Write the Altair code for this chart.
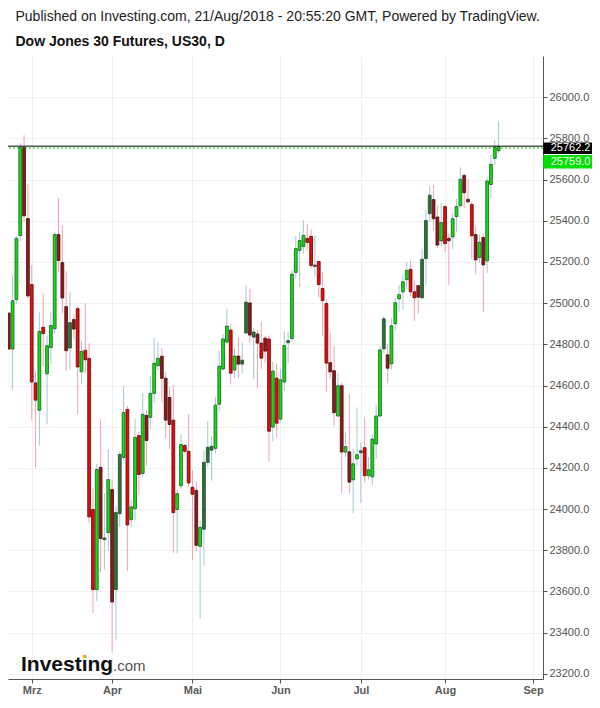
import altair as alt
import pandas as pd

# ---- data (daily bars, Feb 21 .. Aug 21, 2018) ----
opens = [24952, 24777, 25017, 25328, 25756, 25411, 25090, 24613, 24480, 24883,
         24657, 24784, 24876, 25333, 25197, 24983, 24782, 24920, 24973, 24667,
         24771, 24732, 23998, 23609, 24203, 23852, 23886, 24095, 23609, 23978,
         24250, 24484, 23949, 24002, 24357, 24173, 24455, 24445, 24562, 24696,
         24742, 24635, 24542, 24432, 23998, 24113, 24309, 24281, 24106, 24091,
         23819, 23902, 24227, 24286, 24295, 24509, 24680, 24811, 24869, 24675,
         24743, 24704, 24855, 25001, 24835, 24850, 24806, 24830, 24826, 24398,
         24636, 24437, 24617, 24808, 24828, 25149, 25256, 25275, 25314, 25324,
         25178, 25202, 25071, 24998, 24711, 24672, 24452, 24599, 24277, 24278,
         24142, 24244, 24273, 24298, 24162, 24156, 24316, 24452, 24778, 24749,
         24705, 24900, 25021, 25055, 25114, 25164, 25055, 25085, 25026, 25216,
         25435, 25503, 25418, 25302, 25469, 25315, 25321, 25420, 25473, 25620,
         25504, 25479, 25333, 25222, 25319, 25205, 25576, 25703, 25740]
highs = [24952, 25135, 25325, 25776, 25816, 25578, 25184, 24669, 24955, 25049,
         24844, 24955, 25345, 25510, 25377, 25155, 25056, 24944, 24985, 24816,
         25000, 24805, 24100, 24221, 24437, 24077, 24291, 24145, 24015, 24281,
         24597, 24500, 24043, 24437, 24375, 24565, 24481, 24646, 24829, 24810,
         24781, 24664, 24594, 24602, 24092, 24362, 24315, 24460, 24190, 24137,
         23944, 24283, 24427, 24355, 24545, 24769, 24850, 24973, 24900, 24779,
         24835, 24808, 25085, 25069, 24879, 24871, 24911, 24842, 24842, 24715,
         24706, 24679, 24863, 24860, 25160, 25325, 25347, 25403, 25384, 25358,
         25329, 25205, 25150, 25019, 24857, 24794, 24661, 24614, 24371, 24560,
         24293, 24494, 24322, 24445, 24252, 24362, 24507, 24794, 24937, 24802,
         24926, 25025, 25089, 25140, 25198, 25208, 25110, 25090, 25264, 25451,
         25568, 25574, 25475, 25487, 25475, 25337, 25438, 25509, 25659, 25630,
         25601, 25492, 25374, 25335, 25335, 25609, 25719, 25792, 25884]
lows = [24777, 24579, 24998, 25302, 25395, 25022, 24430, 24203, 24309, 24693,
        24411, 24704, 24852, 25152, 24949, 24670, 24675, 24824, 24459, 24607,
        24660, 23933, 23495, 23553, 23695, 23707, 23797, 23305, 23365, 23913,
        24237, 23699, 23913, 23946, 24067, 24156, 24210, 24387, 24516, 24675,
        24518, 24343, 24291, 23788, 23784, 24100, 24270, 24108, 23752, 23796,
        23469, 23727, 24206, 24138, 24270, 24474, 24673, 24801, 24605, 24636,
        24636, 24660, 24850, 24808, 24631, 24586, 24680, 24709, 24231, 24328,
        24347, 24421, 24573, 24708, 24812, 25120, 25079, 25241, 25257, 25168,
        25128, 25027, 24841, 24568, 24633, 24403, 24447, 24077, 24252, 24077,
        23980, 24209, 24029, 24131, 24145, 24117, 24243, 24446, 24757, 24611,
        24679, 24867, 24960, 24969, 25068, 25034, 24913, 24950, 25018, 25089,
        25394, 25350, 25268, 25273, 25248, 25088, 25263, 25346, 25460, 25460,
        25485, 25214, 25141, 25196, 24958, 25147, 25508, 25670, 25727]
closes = [24777, 25012, 25315, 25756, 25424, 25035, 24617, 24529, 24863, 24852,
          24793, 24891, 25333, 25207, 25025, 24769, 24905, 24874, 24690, 24766,
          24725, 23962, 23609, 24192, 23857, 23860, 24143, 23549, 23983, 24265,
          24469, 23923, 24011, 24348, 24168, 24460, 24333, 24562, 24708, 24732,
          24635, 24432, 24411, 23983, 24075, 24314, 24281, 24127, 24072, 23824,
          23911, 24227, 24300, 24305, 24505, 24694, 24826, 24889, 24660, 24743,
          24704, 24723, 25005, 24845, 24860, 24806, 24733, 24767, 24378, 24670,
          24417, 24628, 24794, 24818, 25141, 25265, 25304, 25329, 25295, 25183,
          25185, 25090, 25013, 24709, 24666, 24468, 24599, 24277, 24303, 24131,
          24220, 24264, 24283, 24162, 24191, 24340, 24452, 24773, 24924, 24684,
          24890, 25002, 25041, 25104, 25159, 25055, 25026, 25029, 25213, 25401,
          25524, 25410, 25282, 25391, 25289, 25303, 25410, 25469, 25601, 25536,
          25492, 25327, 25210, 25295, 25186, 25593, 25674, 25756, 25759]
# body shade: G bright green, K dark green, R bright red, D dark red
shades = list("DGGGDDRRGR" "GGGDDDKDRG" "RRRGDKGDKK" "GRGGRGDGGG" "DDDRGGRRRD"
              "GKKKGGGGRG" "DKKDKDRDRG" "RGGKGGGGRR" "KRRRDDGDGD" "GGKRGGGGKD"
              "GGGGGRRDKK" "KDDGRDGGGD" "DRDGDGGGG")
month_index = [6, 27, 48, 71, 92, 114, 137]
month_labels = ["Mrz", "Apr", "Mai", "Jun", "Jul", "Aug", "Sep"]
y_ticks = list(range(23200, 26001, 200))
last_price = 25762.2
last_close = 25759.0

# ---- table ----
n = len(opens)
df = pd.DataFrame({"i": list(range(n)), "open": opens, "high": highs,
                   "low": lows, "close": closes, "shade": shades})
df["lo"] = df["i"] - 0.37
df["hi"] = df["i"] + 0.37
df["dir"] = ["up" if s in "GK" else "down" for s in shades]

W, H = 535, 623
FONT = "Liberation Sans"
xs = alt.Scale(domain=[-0.2, 139.6], nice=False, zero=False)
ys = alt.Scale(domain=[23175, 26200], nice=False, zero=False)

label_expr = "".join(f"datum.value == {v} ? '{l}' : " for v, l in zip(month_index, month_labels)) + "''"

x_axis = alt.Axis(values=month_index, labelExpr=label_expr, title=None, grid=True,
                  gridColor="#f0f0f0", tickSize=4, labelPadding=1, domainColor="#555555",
                  tickColor="#555555", labelColor="#5a5a5a", labelFontSize=11, labelFont=FONT,
                  labelFontWeight="bold", labelFlush=False)
y_axis = alt.Axis(orient="right", values=y_ticks, format=".1f", title=None, grid=True,
                  gridColor="#f0f0f0", tickSize=4, labelPadding=2, domainColor="#555555",
                  tickColor="#555555", labelColor="#555555", labelFontSize=11, labelFont=FONT)

wicks = alt.Chart(df).mark_rule(strokeWidth=1, clip=True).encode(
    x=alt.X("i:Q", scale=xs, axis=x_axis),
    y=alt.Y("low:Q", scale=ys, axis=y_axis),
    y2="high:Q",
    color=alt.Color("dir:N", scale=alt.Scale(domain=["up", "down"], range=["#a3c9d1", "#f4a2ac"]),
                    legend=None),
)

shade_dom = ["G", "K", "R", "D"]
bodies = alt.Chart(df).mark_rect(strokeWidth=0.8, clip=True).encode(
    x=alt.X("lo:Q", scale=xs),
    x2="hi:Q",
    y=alt.Y("open:Q", scale=ys),
    y2="close:Q",
    fill=alt.Fill("shade:N", scale=alt.Scale(domain=shade_dom,
                  range=["#0ee00e", "#2a7238", "#f00808", "#8c1a1a"]), legend=None),
    stroke=alt.Stroke("shade:N", scale=alt.Scale(domain=shade_dom,
                      range=["#1f5a2a", "#1f4d28", "#5a0a0a", "#4a0c0c"]), legend=None),
)

price_df = pd.DataFrame({"p": [last_price]})
close_df = pd.DataFrame({"p": [last_close]})
green_line = alt.Chart(close_df).mark_rule(color="#00cc00", strokeDash=[2, 2], strokeWidth=1,
                                           yOffset=1.2).encode(y=alt.Y("p:Q", scale=ys))
black_line = alt.Chart(price_df).mark_rule(color="#000000", strokeWidth=1).encode(
    y=alt.Y("p:Q", scale=ys))

box_df = pd.DataFrame({
    "top": [last_price + 18.4, last_price - 43.3],
    "bot": [last_price - 38.4, last_price - 107.9],
    "txt": [f"{last_price:.1f}", f"{last_close:.1f}"],
    "fill": ["#000000", "#00e000"],
})
box_df["mid"] = (box_df["top"] + box_df["bot"]) / 2
boxes = alt.Chart(box_df).mark_rect(clip=False).encode(
    x=alt.value(535.3), x2=alt.value(584),
    y=alt.Y("top:Q", scale=ys), y2="bot:Q",
    fill=alt.Fill("fill:N", scale=None),
)
box_text = alt.Chart(box_df).mark_text(align="left", baseline="middle", color="white",
                                       fontSize=11, font=FONT, clip=False).encode(
    x=alt.value(542.7), y=alt.Y("mid:Q", scale=ys), text="txt:N")

hdr1 = alt.Chart(pd.DataFrame({"t": ["Published on Investing.com, 21/Aug/2018 - 20:55:20 GMT, Powered by TradingView."]})).mark_text(
    align="left", baseline="middle", fontSize=14, font=FONT, color="#222222").encode(
    x=alt.value(7.5), y=alt.value(-38.7), text="t:N")
hdr2 = alt.Chart(pd.DataFrame({"t": ["Dow Jones 30 Futures, US30, D"]})).mark_text(
    align="left", baseline="middle", fontSize=14, font=FONT, fontWeight="bold", color="#111111").encode(
    x=alt.value(7.5), y=alt.value(-14.3), text="t:N")

logo1 = alt.Chart(pd.DataFrame({"t": ["Investing"]})).mark_text(
    align="left", baseline="alphabetic", fontSize=21, font=FONT, fontWeight="bold", color="#111111").encode(
    x=alt.value(13), y=alt.value(615), text="t:N")
logo2 = alt.Chart(pd.DataFrame({"t": [".com"]})).mark_text(
    align="left", baseline="alphabetic", fontSize=15, font=FONT, color="#555555").encode(
    x=alt.value(105), y=alt.value(615), text="t:N")
logo_dot = alt.Chart(pd.DataFrame({"t": ["dot"]})).mark_square(size=10, color="#f5a623", opacity=1).encode(
    x=alt.value(76.6), y=alt.value(600.5))

chart = alt.layer(wicks, bodies, green_line, black_line, boxes, box_text,
                  hdr1, hdr2, logo1, logo2, logo_dot).properties(
    width=W, height=H,
    autosize=alt.AutoSizeParams(type="none"),
    padding={"left": 0, "top": 48, "right": 49, "bottom": 17},
    background="white",
).configure_view(stroke=None)

chart.save("out.html", embed_options={"renderer": "svg", "actions": False})
